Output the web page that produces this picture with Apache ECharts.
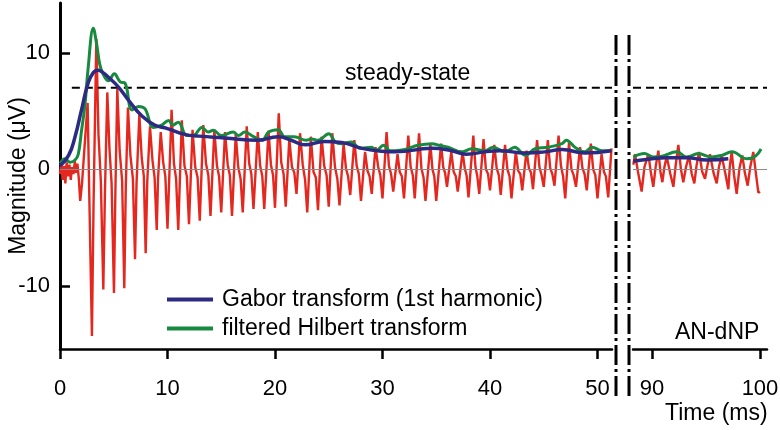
<!DOCTYPE html>
<html>
<head>
<meta charset="utf-8">
<script src="https://cdn.jsdelivr.net/npm/echarts@6/dist/echarts.min.js"></script>
<style>
  * { margin: 0; padding: 0; box-sizing: border-box; }
  body { background: #fff; }
  #chart { width: 780px; height: 430px; }
</style>
</head>
<body>
<div id="chart"></div>
<script>
  // tick labels
  const xLeftTicks = [0, 10, 20, 30, 40, 50];
  const xRightTicks = [90, 100];
  const yTicks = [-10, 0, 10];

  // steady-state level (µV)
  const steadyLeft = [[1.1, 7], [51.35, 7]];
  const steadyRight = [[88.24, 7], [100.65, 7]];

  // raw response, 0-51 ms  [time ms, µV]
  const redLeft = [
    [0, -0.4], [0.12, 0.5], [0.25, -0.9], [0.38, 0.3], [0.5, -1.2], [0.62, 0.6], [0.75, -0.6], [0.88, 0.4],
    [1.0, -0.9], [1.12, 0.2], [1.25, -0.4], [1.38, 0.7], [1.5, -0.3], [1.62, 0.5], [1.75, -0.8], [1.88, -2.7],
    [2.05, -1.2], [2.25, 1.5], [2.57, 5.7], [2.72, -2.0], [2.97, -14.3], [3.12, -3.0], [3.38, 11.2], [3.58, 3.0],
    [3.8, -1.0], [4.03, -10.3], [4.18, -2.0], [4.4, 6.6], [4.6, 1.8], [4.8, -1.2], [5.02, -10.6], [5.15, -2.0],
    [5.33, 6.9], [5.55, 1.6], [5.78, -1.0], [5.98, -10.2], [6.12, -1.5], [6.32, 5.3], [6.55, 1.2], [6.78, -0.8],
    [6.98, -7.7], [7.12, -1.2], [7.38, 4.7], [7.6, 1.0], [7.8, -0.6], [7.97, -7.2], [8.12, -1.0], [8.37, 3.7],
    [8.6, 0.8], [8.8, -0.7], [9.0, -5.2], [9.12, -0.8], [9.37, 3.2], [9.6, 0.6], [9.8, -0.6],
    [10.0, -5.1], [10.38, 5.1], [10.6, 0.5], [10.8, -0.8],
    [11.0, -5.2], [11.33, 4.2], [11.58, 0.3], [11.8, -0.6],
    [12.0, -4.7], [12.33, 3.4], [12.58, 0.2], [12.8, -0.7],
    [13.0, -4.4], [13.33, 3.8], [13.58, 0.5], [13.8, -0.5],
    [14.0, -4.0], [14.36, 3.4], [14.6, 0.3], [14.8, -0.6],
    [15.0, -3.7], [15.35, 3.2], [15.6, 0.4], [15.8, -0.5],
    [16.0, -4.0], [16.35, 3.0], [16.58, 0.2], [16.8, -0.8],
    [17.0, -3.7], [17.37, 3.7], [17.6, 0.5], [17.8, -0.4],
    [18.0, -3.4], [18.4, 3.2], [18.62, 0.3], [18.82, -0.6],
    [19.0, -3.4], [19.4, 3.3], [19.62, 0.4], [19.82, -0.5],
    [20.0, -3.3], [20.35, 4.8], [20.58, 0.6], [20.8, -0.4],
    [21.0, -3.2], [21.33, 2.6], [21.58, 0.2], [21.8, -0.3],
    [22.0, -2.1], [22.33, 3.1], [22.58, 0.4], [22.8, -0.9],
    [23.0, -3.7], [23.33, 2.8], [23.58, -0.2], [23.8, -0.7],
    [24.0, -3.5], [24.33, 2.8], [24.58, 0.3], [24.8, -0.5],
    [25.0, -3.2], [25.33, 3.1], [25.58, 0.2], [25.8, -0.8],
    [26.0, -3.1], [26.38, 2.2], [26.6, 0.1], [26.8, -0.6],
    [27.0, -2.2], [27.38, 2.5], [27.6, 0.3], [27.8, -0.4],
    [28.0, -2.7], [28.38, 1.5], [28.6, -0.1], [28.8, -0.6],
    [29.0, -2.1], [29.35, 1.9], [29.6, 0.2], [29.8, -0.5],
    [30.0, -2.5], [30.38, 3.2], [30.6, 0.3], [30.8, -0.4],
    [31.0, -1.9], [31.4, 1.3], [31.6, -0.2], [31.8, -0.6],
    [32.0, -2.5], [32.4, 2.9], [32.62, 0.2], [32.82, -0.5],
    [33.0, -2.5], [33.4, 3.1], [33.62, 0.1], [33.82, -0.7],
    [34.0, -2.7], [34.45, 2.2], [34.65, 0.0], [34.82, -0.6],
    [35.0, -2.7], [35.45, 2.2], [35.65, 0.2], [35.82, -0.3],
    [36.0, -1.5], [36.4, 1.5], [36.62, -0.2], [36.82, -0.6],
    [37.0, -1.9], [37.45, 1.5], [37.65, 0.1], [37.82, -0.5],
    [38.0, -2.4], [38.45, 2.9], [38.65, 0.2], [38.82, -0.6],
    [39.0, -2.1], [39.4, 2.6], [39.62, 0.0], [39.82, -0.4],
    [40.0, -1.8], [40.4, 2.1], [40.62, 0.1], [40.82, -0.5],
    [41.0, -2.2], [41.4, 2.1], [41.62, 0.0], [41.82, -0.6],
    [42.0, -2.5], [42.4, 1.5], [42.62, -0.1], [42.82, -0.4],
    [43.0, -1.8], [43.4, 1.6], [43.62, 0.1], [43.82, -0.3],
    [44.0, -1.7], [44.38, 2.5], [44.6, 0.2], [44.8, -0.5],
    [45.0, -1.5], [45.38, 2.5], [45.6, 0.1], [45.8, -0.4],
    [46.0, -1.4], [46.38, 2.9], [46.6, 0.3], [46.8, -0.6],
    [47.0, -2.5], [47.35, 2.3], [47.58, 0.0], [47.78, -0.5],
    [48.0, -1.5], [48.38, 1.9], [48.6, 0.1], [48.8, -0.4],
    [49.0, -1.8], [49.38, 2.2], [49.6, 0.0], [49.8, -0.5],
    [50.0, -2.5], [50.38, 1.3], [50.6, -0.2], [50.78, -0.6],
    [51.0, -2.4], [51.3, 1.8]
  ];

  // raw response, 88-100 ms (AN-dNP)
  const redRight = [
    [88.27, 0.4], [88.43, 1.3], [88.7, -0.2], [89.04, -1.9], [89.3, 0.2], [89.66, 1.3], [89.9, -0.3],
    [90.12, -1.5], [90.35, 0.3], [90.59, 1.6], [90.78, -0.2], [90.96, -1.1], [91.15, 0.2], [91.36, 1.1],
    [91.7, -0.4], [91.98, -1.5], [92.2, 0.4], [92.44, 2.1], [92.68, 0.0], [92.9, -1.1], [93.15, 0.2],
    [93.43, 1.2], [93.68, -0.4], [93.92, -1.2], [94.12, 0.3], [94.35, 1.5], [94.65, -0.2], [94.91, -0.8],
    [95.15, 0.4], [95.37, 1.3], [95.7, -0.3], [95.99, -1.2], [96.2, 0.2], [96.45, 1.2], [96.8, -0.4],
    [97.07, -1.7], [97.2, 0.2], [97.38, 1.5], [97.6, -0.5], [97.84, -2.1], [98.1, 0.1], [98.36, 1.2],
    [98.6, -0.3], [98.86, -1.4], [99.1, 0.2], [99.38, 1.5], [99.6, -0.2], [99.85, -2.0], [100.0, -1.9]
  ];

  // Gabor transform (1st harmonic)
  const gaborLeft = [
    [0, 0.3], [0.8, 1.2], [1.4, 2.8], [2.0, 5.1], [2.6, 7.35], [3.1, 8.3], [3.55, 8.5], [4.0, 8.3],
    [4.5, 7.9], [5.4, 7.1], [6.4, 5.9], [7.6, 4.6], [8.8, 3.8], [10.0, 3.5], [11.6, 3.0], [12.9, 2.85],
    [15.3, 2.7], [18.4, 2.5], [20.3, 2.8], [21.5, 2.5], [22.8, 2.1], [24.6, 2.4], [26.2, 2.3],
    [28.1, 1.8], [29.9, 1.55], [31.2, 1.5], [34.6, 1.8], [36.4, 1.6], [37.8, 1.3], [39.5, 1.5],
    [40.9, 1.6], [43.3, 1.4], [45.1, 1.5], [46.7, 1.7], [48.8, 1.4], [51.3, 1.6]
  ];
  const gaborRight = [
    [88.27, 0.69], [89.5, 0.85], [91.4, 1.0], [93.2, 1.0], [95.1, 0.8], [97.07, 0.9]
  ];

  // filtered Hilbert transform
  const hilbertLeft = [
    [0, 0.5], [0.47, 0.9], [0.93, 0.6], [1.4, 0.8], [1.7, 1.3], [2.0, 3.3], [2.33, 5.6], [2.6, 8.5],
    [3.1, 12.1], [3.4, 10.8], [3.7, 9.0], [4.0, 8.2], [4.5, 7.6], [5.05, 8.2], [5.6, 7.5], [6.05, 7.4],
    [6.7, 5.1], [7.3, 5.4], [7.9, 5.2], [8.7, 3.6], [9.45, 3.8], [10.1, 4.2], [10.5, 3.8], [11.0, 4.05],
    [11.8, 2.9], [12.4, 2.9], [13.2, 3.6], [13.8, 3.2], [14.26, 3.35], [15.0, 2.9], [16.1, 3.2],
    [16.6, 2.9], [17.2, 3.2], [18.0, 2.8], [18.8, 2.5], [19.4, 3.2], [20.3, 3.4], [20.9, 2.8],
    [21.8, 2.8], [22.9, 2.5], [23.4, 2.6], [24.0, 2.5], [25.0, 3.06], [25.6, 2.35], [26.2, 2.2],
    [27.1, 2.35], [27.9, 1.8], [29.0, 1.9], [29.4, 1.6], [30.1, 2.06], [30.7, 1.6], [31.2, 1.6],
    [32.1, 1.7], [33.3, 2.06], [34.6, 2.2], [35.3, 2.06], [36.1, 1.9], [37.4, 1.5], [38.3, 1.77],
    [39.5, 1.6], [40.3, 1.9], [41.4, 1.5], [42.3, 1.9], [43.3, 1.2], [44.2, 1.77], [45.4, 1.9],
    [46.7, 2.2], [47.1, 2.5], [47.9, 1.9], [48.8, 1.5], [49.5, 1.9], [50.4, 1.6], [51.3, 1.6]
  ];
  const hilbertRight = [
    [88.27, 1.05], [89.3, 1.35], [90.1, 1.06], [90.8, 1.1], [92.3, 1.5], [93.2, 1.06], [94.3, 1.35],
    [95.5, 1.06], [96.45, 1.2], [97.4, 1.5], [98.8, 0.9], [99.6, 1.15], [100.1, 1.75]
  ];

  const FONT = 'Liberation Sans, Arial, Helvetica, sans-serif';
  const RED = '#e4281f';
  const BLUE = '#2c2a82';
  const GREEN = '#188a40';
  const GABOR = 'Gabor transform (1st harmonic)';
  const HILBERT = 'filtered Hilbert transform';

  const chart = echarts.init(document.getElementById('chart'));

  const xAxisBase = {
    type: 'value',
    splitLine: { show: false },
    axisLine: { onZero: false, lineStyle: { color: '#000', width: 2.5 } },
    axisTick: { length: 10, lineStyle: { color: '#000', width: 2.5 } },
    axisLabel: { margin: 29, fontSize: 22, color: '#000', fontFamily: FONT }
  };
  const Y_MIN = -15.41;
  const Y_MAX = 14.27;

  const lineBase = { type: 'line', showSymbol: false, symbol: 'none', animation: false };

  const option = {
    animation: false,
    grid: [
      { left: 60, top: 3, width: 552, height: 346, outerBoundsMode: 'none', containLabel: false },
      { left: 633, top: 3, width: 134, height: 346, outerBoundsMode: 'none', containLabel: false }
    ],
    xAxis: [
      Object.assign({}, xAxisBase, {
        gridIndex: 0, min: 0, max: 51.35,
        axisTick: Object.assign({}, xAxisBase.axisTick, { customValues: xLeftTicks }),
        axisLabel: Object.assign({}, xAxisBase.axisLabel, { customValues: xLeftTicks })
      }),
      Object.assign({}, xAxisBase, {
        gridIndex: 1, min: 88.24, max: 100.65,
        axisTick: Object.assign({}, xAxisBase.axisTick, { customValues: xRightTicks }),
        axisLabel: Object.assign({}, xAxisBase.axisLabel, { customValues: xRightTicks })
      })
    ],
    yAxis: [
      {
        gridIndex: 0, type: 'value', min: Y_MIN, max: Y_MAX,
        name: 'Magnitude (μV)', nameLocation: 'middle', nameGap: 30, nameMoveOverlap: false,
        nameTextStyle: { fontSize: 23, color: '#000', fontFamily: FONT },
        splitLine: { show: false },
        axisLine: { show: true, onZero: false, lineStyle: { color: '#000', width: 3 } },
        axisTick: { inside: true, length: 10, customValues: yTicks, lineStyle: { color: '#000', width: 2.5 } },
        axisLabel: { customValues: yTicks, margin: 10, fontSize: 22, color: '#000', fontFamily: FONT }
      },
      { gridIndex: 1, type: 'value', min: Y_MIN, max: Y_MAX, show: false }
    ],
    legend: {
      data: [GABOR, HILBERT],
      orient: 'vertical',
      left: 167, top: 288, padding: 0,
      icon: 'rect',
      itemWidth: 46, itemHeight: 4, itemGap: 6,
      textStyle: { fontSize: 23, color: '#000', fontFamily: FONT, padding: [0, 0, 0, 4] }
    },
    series: [
      Object.assign({}, lineBase, {
        name: 'raw', xAxisIndex: 0, yAxisIndex: 0, data: redLeft, z: 2,
        lineStyle: { color: RED, width: 2.4 },
        markLine: {
          silent: true, symbol: 'none', label: { show: false },
          lineStyle: { color: '#8a8a8a', width: 1, type: 'solid' },
          data: [{ yAxis: 0 }]
        }
      }),
      Object.assign({}, lineBase, {
        name: 'rawR', xAxisIndex: 1, yAxisIndex: 1, data: redRight, z: 2,
        lineStyle: { color: RED, width: 2.4 },
        markLine: {
          silent: true, symbol: 'none', label: { show: false },
          lineStyle: { color: '#8a8a8a', width: 1, type: 'solid' },
          data: [{ yAxis: 0 }]
        }
      }),
      Object.assign({}, lineBase, {
        name: 'steady', xAxisIndex: 0, yAxisIndex: 0, data: steadyLeft, z: 3,
        lineStyle: { color: '#000', width: 2, type: [8, 5] }
      }),
      Object.assign({}, lineBase, {
        name: 'steadyR', xAxisIndex: 1, yAxisIndex: 1, data: steadyRight, z: 3,
        lineStyle: { color: '#000', width: 2, type: [8, 5] }
      }),
      Object.assign({}, lineBase, {
        name: HILBERT, xAxisIndex: 0, yAxisIndex: 0, data: hilbertLeft, z: 4, smooth: 0.4,
        lineStyle: { color: GREEN, width: 3 }, itemStyle: { color: GREEN }
      }),
      Object.assign({}, lineBase, {
        name: HILBERT, xAxisIndex: 1, yAxisIndex: 1, data: hilbertRight, z: 4, smooth: 0.4,
        lineStyle: { color: GREEN, width: 3 }, itemStyle: { color: GREEN }
      }),
      Object.assign({}, lineBase, {
        name: GABOR, xAxisIndex: 0, yAxisIndex: 0, data: gaborLeft, z: 5, smooth: 0.5,
        lineStyle: { color: BLUE, width: 3.5 }, itemStyle: { color: BLUE }
      }),
      Object.assign({}, lineBase, {
        name: GABOR, xAxisIndex: 1, yAxisIndex: 1, data: gaborRight, z: 5, smooth: 0.5,
        lineStyle: { color: BLUE, width: 3.5 }, itemStyle: { color: BLUE }
      })
    ],
    graphic: [
      // axis break marks
      { type: 'line', shape: { x1: 616, y1: 35, x2: 616, y2: 396 }, style: { stroke: '#000', lineWidth: 3, lineDash: [20, 4, 3, 4] } },
      { type: 'line', shape: { x1: 629, y1: 35, x2: 629, y2: 396 }, style: { stroke: '#000', lineWidth: 3, lineDash: [20, 4, 3, 4] } },
      { type: 'text', left: 345, top: 62, style: { text: 'steady-state', fontSize: 23, fill: '#000', fontFamily: FONT } },
      { type: 'text', left: 675, top: 321, style: { text: 'AN-dNP', fontSize: 23, fill: '#000', fontFamily: FONT } },
      { type: 'text', left: 665, top: 402, style: { text: 'Time (ms)', fontSize: 23, fill: '#000', fontFamily: FONT } }
    ]
  };

  chart.setOption(option);
</script>
</body>
</html>
